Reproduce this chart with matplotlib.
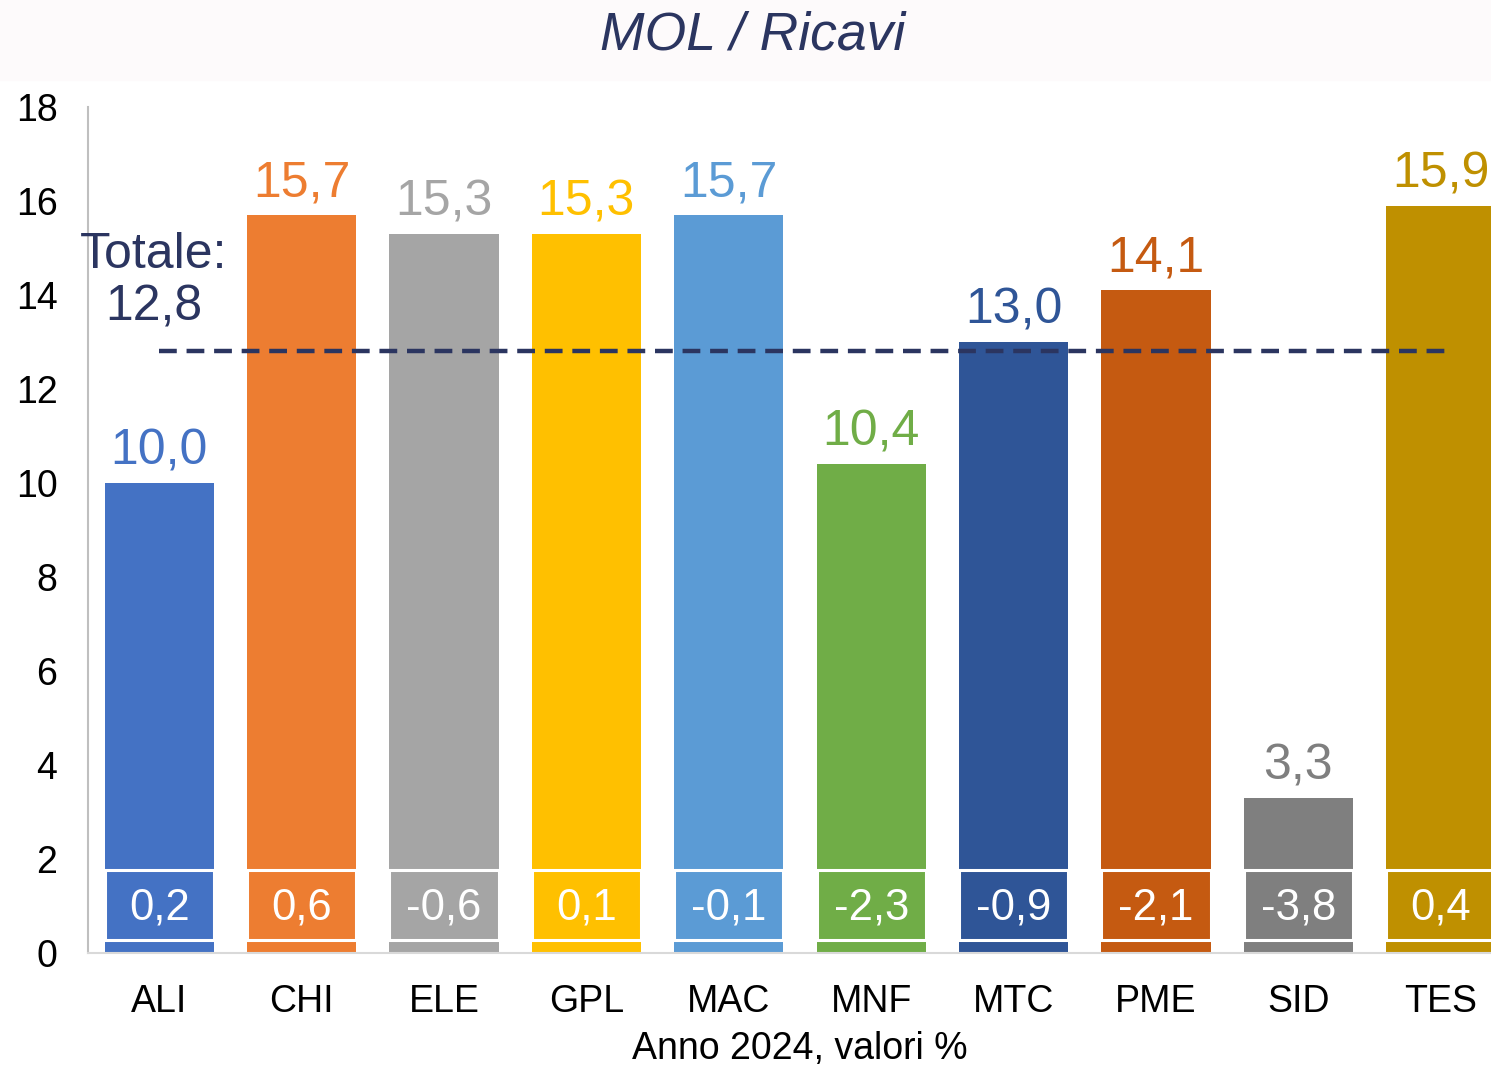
import matplotlib
matplotlib.use("Agg")
import matplotlib.pyplot as plt
from matplotlib.patches import Rectangle

plt.rcParams['font.family'] = ['Liberation Sans', 'DejaVu Sans']

categories = ["ALI", "CHI", "ELE", "GPL", "MAC", "MNF", "MTC", "PME", "SID", "TES"]
values = [10.0, 15.7, 15.3, 15.3, 15.7, 10.4, 13.0, 14.1, 3.3, 15.9]
changes = [0.2, 0.6, -0.6, 0.1, -0.1, -2.3, -0.9, -2.1, -3.8, 0.4]
colors = ["#4472C4", "#ED7D31", "#A5A5A5", "#FFC000", "#5B9BD5",
          "#70AD47", "#2F5597", "#C55A11", "#7F7F7F", "#BF9000"]
total = 12.8
title = "MOL / Ricavi"
xlabel = "Anno 2024, valori %"

def fmt(v):
    return f"{v:.1f}".replace(".", ",")

W, H = 1491, 1065
fig = plt.figure(figsize=(W / 100, H / 100), dpi=100)
fig.patches.append(Rectangle((0, 1 - 80 / H), 1, 80 / H, transform=fig.transFigure,
                             color="#FDFAFB", zorder=0))
fig.text(753 / W, 1 - 35 / H, title, ha="center", va="center", fontsize=38.5,
         style="italic", color="#2B3560")

left, right, top, bottom = 88, 1512, 107, 953
ax = fig.add_axes([left / W, 1 - bottom / H, (right - left) / W, (bottom - top) / H])
ax.set_xlim(-0.5, len(categories) - 0.5)
ax.set_ylim(0, 18)

x = list(range(len(categories)))
bw = 0.766
ax.bar(x, values, width=bw, color=colors, zorder=2)

box_lo, box_hi = 0.28, 1.77
for i, (c, ch) in enumerate(zip(colors, changes)):
    r = Rectangle((i - bw / 2, box_lo), bw, box_hi - box_lo, facecolor=c,
                  edgecolor="white", linewidth=2.2, zorder=3)
    ax.add_patch(r)
    ax.text(i, (box_lo + box_hi) / 2 - 0.06, fmt(ch), ha="center", va="center",
            fontsize=31.5, color="white", zorder=4)
    ax.annotate(fmt(values[i]), (i, values[i]), xytext=(0, 6), textcoords="offset points",
                ha="center", va="bottom", fontsize=36, color=c, zorder=4,
                annotation_clip=False)

ax.plot([0, 9.05], [total, total], linestyle=(0, (4, 2.2)), color="#2B3560",
        linewidth=3.2, zorder=5)
ax.text(-0.04, 14.3, "Totale:\n" + fmt(total), ha="center", va="center",
        fontsize=36, color="#2B3560", linespacing=1.18, zorder=6)

ax.set_yticks(range(0, 19, 2))
ax.set_xticks(x)
ax.set_xticklabels(categories)
ax.tick_params(axis="both", length=0, labelsize=27, colors="black")
ax.tick_params(axis="y", pad=22)
ax.tick_params(axis="x", pad=22)
ax.set_xlabel(xlabel, fontsize=27, labelpad=8)
for s in ["top", "right"]:
    ax.spines[s].set_visible(False)
ax.spines["left"].set_color("#BFBFBF")
ax.spines["left"].set_linewidth(1.5)
ax.spines["bottom"].set_color("#D9D9D9")
ax.spines["bottom"].set_linewidth(1.5)
ax.set_facecolor("white")

fig.savefig("out.png", dpi=100)
